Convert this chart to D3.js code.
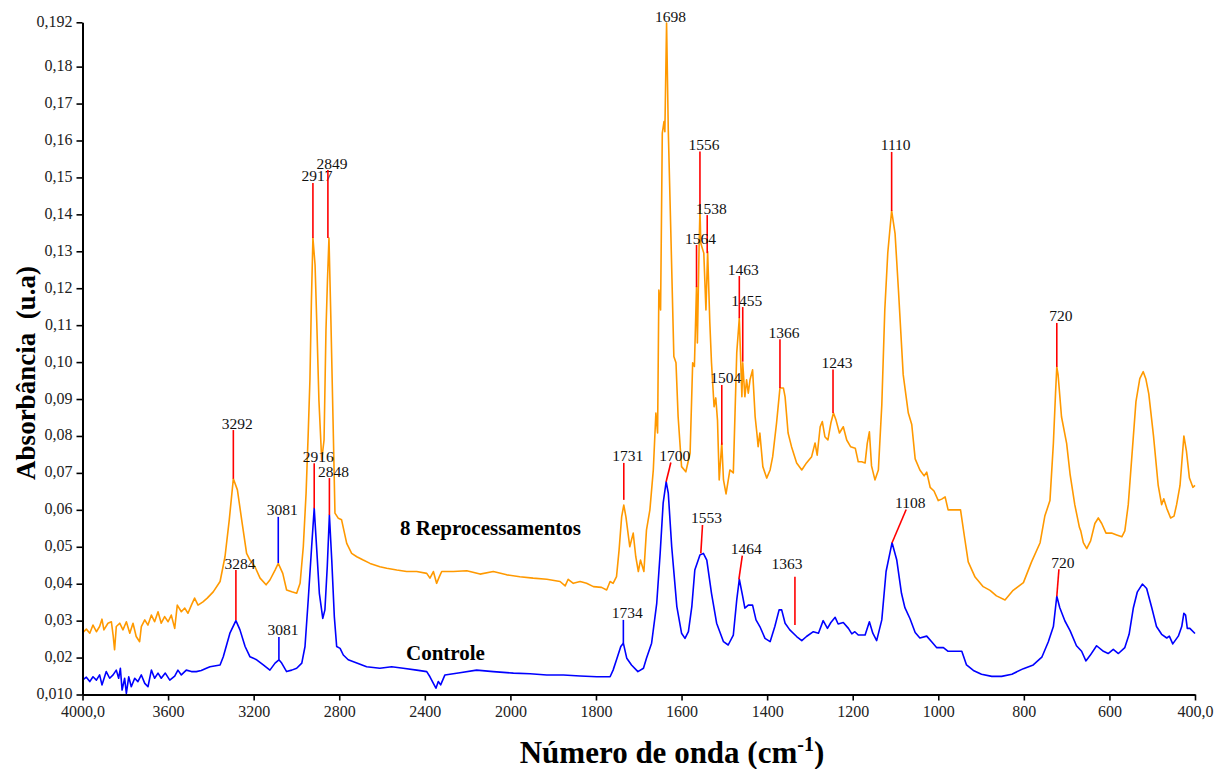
<!DOCTYPE html>
<html>
<head>
<meta charset="utf-8">
<script src="https://cdn.jsdelivr.net/npm/d3@7"></script>
<style>
  body { margin: 0; background: #fff; }
  svg text { font-family: "Liberation Serif", "Times New Roman", serif; }
</style>
</head>
<body>
<svg id="chart" width="1225" height="769"></svg>
<script>
// FTIR spectra, [wavenumber (cm-1), absorbance]
var reprocessados = [
  [4000,0.0267],[3982,0.0277],[3966,0.0266],[3951,0.0288],[3935,0.0270],[3920,0.0284],[3909,0.0304],[3900,0.0275],
  [3881,0.0293],[3865,0.0297],[3857,0.0261],[3850,0.0221],[3842,0.0284],[3826,0.0293],[3811,0.0275],[3795,0.0297],
  [3779,0.0266],[3764,0.0293],[3749,0.0257],[3733,0.0243],[3725,0.0284],[3709,0.0302],[3694,0.0288],[3678,0.0315],
  [3663,0.0297],[3647,0.0324],[3632,0.0293],[3616,0.0311],[3600,0.0297],[3585,0.0315],[3569,0.0279],[3557,0.0342],
  [3538,0.0324],[3522,0.0334],[3507,0.0320],[3491,0.0342],[3476,0.0361],[3460,0.0342],[3437,0.0351],[3417,0.0361],
  [3389,0.0378],[3357,0.0406],[3334,0.0473],[3314,0.0573],[3295,0.0684],[3276,0.0654],[3256,0.0573],[3233,0.0482],
  [3217,0.0464],[3194,0.0446],[3170,0.0415],[3142,0.0397],[3124,0.0410],[3100,0.0437],[3085,0.0455],[3064,0.0428],
  [3046,0.0383],[3022,0.0378],[2999,0.0374],[2983,0.0401],[2968,0.0500],[2955,0.0645],[2945,0.0807],[2937,0.0952],
  [2930,0.1168],[2923,0.1336],[2913,0.1263],[2904,0.1087],[2895,0.0897],[2882,0.0735],[2871,0.0789],[2862,0.1087],
  [2855,0.1222],[2848,0.1336],[2839,0.1114],[2829,0.0843],[2820,0.0591],[2804,0.0577],[2789,0.0573],[2765,0.0509],
  [2742,0.0482],[2718,0.0473],[2688,0.0464],[2656,0.0455],[2610,0.0446],[2578,0.0442],[2531,0.0437],[2485,0.0433],
  [2438,0.0433],[2391,0.0428],[2376,0.0415],[2360,0.0433],[2345,0.0401],[2332,0.0419],[2321,0.0433],[2267,0.0433],
  [2204,0.0435],[2142,0.0426],[2080,0.0433],[2017,0.0424],[1978,0.0419],[1947,0.0415],[1915,0.0412],[1884,0.0406],
  [1872,0.0394],[1865,0.0412],[1853,0.0401],[1837,0.0406],[1822,0.0401],[1806,0.0392],[1787,0.0390],[1775,0.0383],
  [1767,0.0406],[1760,0.0401],[1752,0.0419],[1746,0.0491],[1740,0.0581],[1735,0.0613],[1730,0.0581],[1721,0.0500],
  [1713,0.0537],[1707,0.0473],[1701,0.0433],[1696,0.0464],[1688,0.0433],[1682,0.0545],[1674,0.0600],[1666,0.0708],
  [1660,0.0862],[1656,0.0808],[1653,0.1195],[1649,0.1141],[1645,0.1620],[1641,0.1651],[1639,0.1624],[1635,0.1918],
  [1631,0.1628],[1625,0.1349],[1618,0.1015],[1613,0.0998],[1608,0.0852],[1600,0.0717],[1590,0.0703],[1580,0.0754],
  [1574,0.0998],[1570,0.0988],[1565,0.1204],[1563,0.1052],[1559,0.1312],[1557,0.1412],[1555,0.1322],[1548,0.1295],
  [1543,0.1141],[1539,0.1299],[1534,0.1109],[1530,0.0998],[1524,0.0879],[1520,0.0903],[1516,0.0843],[1512,0.0681],
  [1506,0.0781],[1502,0.0681],[1496,0.0643],[1487,0.0708],[1479,0.0700],[1471,0.1025],[1465,0.1119],[1459,0.0906],
  [1457,0.0998],[1452,0.0906],[1448,0.0952],[1444,0.0916],[1440,0.0952],[1434,0.0979],[1428,0.0852],[1424,0.0808],
  [1421,0.0771],[1417,0.0808],[1410,0.0717],[1405,0.0700],[1401,0.0686],[1393,0.0708],[1387,0.0744],[1378,0.0835],
  [1370,0.0930],[1362,0.0930],[1358,0.0906],[1351,0.0808],[1343,0.0771],[1331,0.0727],[1319,0.0708],[1308,0.0727],
  [1296,0.0744],[1288,0.0781],[1283,0.0748],[1276,0.0825],[1271,0.0839],[1265,0.0798],[1258,0.0789],[1251,0.0835],
  [1245,0.0862],[1239,0.0843],[1231,0.0808],[1222,0.0825],[1214,0.0789],[1205,0.0771],[1194,0.0767],[1187,0.0730],
  [1179,0.0730],[1171,0.0727],[1166,0.0780],[1161,0.0811],[1156,0.0719],[1148,0.0681],[1140,0.0708],[1132,0.0884],
  [1125,0.1141],[1118,0.1296],[1109,0.1410],[1101,0.1348],[1093,0.1193],[1082,0.0966],[1070,0.0862],[1062,0.0831],
  [1054,0.0738],[1043,0.0708],[1033,0.0692],[1027,0.0702],[1019,0.0661],[1010,0.0651],[1000,0.0625],[992,0.0629],
  [984,0.0635],[977,0.0600],[961,0.0600],[948,0.0600],[938,0.0521],[930,0.0459],[914,0.0418],[895,0.0392],
  [879,0.0382],[864,0.0367],[844,0.0356],[825,0.0382],[801,0.0403],[782,0.0459],[762,0.0511],[751,0.0583],
  [739,0.0625],[731,0.0780],[726,0.0914],[723,0.0987],[720,0.0966],[712,0.0852],[700,0.0780],[692,0.0697],
  [681,0.0614],[670,0.0552],[667,0.0543],[661,0.0511],[653,0.0495],[644,0.0516],[634,0.0563],[626,0.0578],
  [618,0.0563],[608,0.0537],[595,0.0537],[583,0.0532],[571,0.0527],[564,0.0543],[556,0.0614],[548,0.0738],
  [538,0.0893],[529,0.0955],[521,0.0974],[515,0.0955],[508,0.0914],[497,0.0800],[486,0.0666],[478,0.0614],
  [473,0.0630],[466,0.0604],[457,0.0578],[449,0.0583],[443,0.0614],[435,0.0666],[426,0.0800],[420,0.0759],
  [413,0.0686],[405,0.0661],[400,0.0666]
];

var controle = [
  [4000,0.0139],[3982,0.0147],[3966,0.0135],[3951,0.0148],[3935,0.0139],[3920,0.0153],[3909,0.0126],[3889,0.0162],
  [3873,0.0144],[3857,0.0153],[3842,0.0166],[3831,0.0144],[3823,0.0171],[3815,0.0112],[3803,0.0144],[3795,0.0103],
  [3784,0.0148],[3772,0.0121],[3756,0.0144],[3741,0.0135],[3725,0.0153],[3709,0.0130],[3694,0.0121],[3678,0.0166],
  [3663,0.0144],[3647,0.0158],[3632,0.0144],[3613,0.0158],[3592,0.0139],[3569,0.0150],[3554,0.0166],[3538,0.0153],
  [3515,0.0166],[3491,0.0162],[3468,0.0162],[3445,0.0165],[3421,0.0171],[3404,0.0175],[3357,0.0180],[3342,0.0202],
  [3311,0.0266],[3283,0.0300],[3264,0.0275],[3240,0.0230],[3217,0.0202],[3186,0.0194],[3155,0.0180],[3124,0.0166],
  [3100,0.0185],[3082,0.0194],[3069,0.0185],[3046,0.0162],[3022,0.0166],[2999,0.0171],[2975,0.0185],[2960,0.0230],
  [2945,0.0356],[2929,0.0500],[2917,0.0604],[2905,0.0491],[2893,0.0374],[2877,0.0306],[2867,0.0329],[2856,0.0446],
  [2846,0.0586],[2835,0.0464],[2823,0.0311],[2812,0.0230],[2796,0.0225],[2781,0.0207],[2758,0.0194],[2718,0.0185],
  [2672,0.0175],[2610,0.0171],[2555,0.0175],[2501,0.0171],[2438,0.0166],[2391,0.0162],[2376,0.0148],[2360,0.0130],
  [2348,0.0117],[2337,0.0135],[2326,0.0126],[2306,0.0153],[2236,0.0159],[2158,0.0166],[2080,0.0162],[1993,0.0158],
  [1954,0.0156],[1915,0.0153],[1876,0.0153],[1837,0.0150],[1798,0.0148],[1767,0.0148],[1760,0.0166],[1752,0.0194],
  [1742,0.0230],[1736,0.0239],[1728,0.0198],[1717,0.0180],[1702,0.0162],[1689,0.0171],[1682,0.0198],[1670,0.0239],
  [1658,0.0347],[1650,0.0482],[1643,0.0618],[1636,0.0676],[1631,0.0645],[1623,0.0500],[1611,0.0338],[1600,0.0266],
  [1592,0.0252],[1584,0.0270],[1576,0.0338],[1569,0.0437],[1557,0.0478],[1549,0.0482],[1541,0.0464],[1530,0.0374],
  [1518,0.0293],[1502,0.0243],[1491,0.0234],[1479,0.0261],[1471,0.0356],[1465,0.0412],[1457,0.0365],[1452,0.0334],
  [1444,0.0342],[1434,0.0342],[1426,0.0302],[1417,0.0284],[1405,0.0252],[1393,0.0243],[1382,0.0284],[1372,0.0329],
  [1366,0.0329],[1358,0.0293],[1347,0.0275],[1331,0.0257],[1319,0.0246],[1308,0.0257],[1292,0.0270],[1280,0.0266],
  [1269,0.0300],[1259,0.0279],[1251,0.0295],[1241,0.0309],[1234,0.0291],[1222,0.0295],[1210,0.0279],[1202,0.0264],
  [1195,0.0270],[1187,0.0261],[1171,0.0261],[1161,0.0297],[1153,0.0266],[1144,0.0246],[1132,0.0302],[1122,0.0433],
  [1108,0.0511],[1097,0.0464],[1086,0.0374],[1078,0.0335],[1066,0.0305],[1054,0.0268],[1043,0.0253],[1027,0.0258],
  [1015,0.0242],[1004,0.0227],[988,0.0227],[977,0.0217],[957,0.0217],[945,0.0217],[934,0.0180],[918,0.0165],
  [899,0.0155],[875,0.0149],[852,0.0149],[828,0.0155],[801,0.0170],[778,0.0180],[758,0.0201],[743,0.0242],
  [731,0.0284],[723,0.0366],[716,0.0335],[704,0.0299],[692,0.0273],[677,0.0232],[665,0.0217],[655,0.0191],
  [645,0.0206],[630,0.0232],[614,0.0217],[603,0.0211],[591,0.0222],[579,0.0211],[564,0.0227],[554,0.0263],
  [544,0.0335],[535,0.0377],[523,0.0399],[513,0.0387],[501,0.0335],[490,0.0284],[478,0.0263],[466,0.0253],
  [460,0.0258],[452,0.0237],[439,0.0258],[431,0.0284],[426,0.0320],[422,0.0315],[418,0.0279],[412,0.0279],
  [400,0.0265]
];

// peak marks: label, top of the mark [cm-1, abs], foot of the mark [cm-1, abs]
var picosReprocessados = [
  ['3292', 3295, 0.0816, 3295, 0.0684],
  ['3081', 3085, 0.0581, 3085, 0.0456],
  ['2917', 2923, 0.1485, 2923, 0.1336],
  ['2849', 2853, 0.1520, 2853, 0.1336],
  ['1698', 1635, 0.1918, 1635, 0.1918],
  ['1556', 1557, 0.1570, 1557, 0.1412],
  ['1538', 1540, 0.1398, 1540, 0.1295],
  ['1564', 1565, 0.1317, 1565, 0.1203],
  ['1463', 1465, 0.1233, 1465, 0.1119],
  ['1455', 1457, 0.1149, 1457, 0.1001],
  ['1504', 1506, 0.0938, 1506, 0.0776],
  ['1366', 1370, 0.1062, 1370, 0.0930],
  ['1243', 1246, 0.0980, 1246, 0.0862],
  ['1110', 1109, 0.1569, 1109, 0.1409],
  ['720', 723, 0.1106, 723, 0.0987],
  ['1731', 1735, 0.0727, 1735, 0.0627]
];

var picosControle = [
  ['3284', 3283, 0.0437, 3283, 0.0302],
  ['3081', 3082, 0.0256, 3082, 0.0194],
  ['2916', 2917, 0.0726, 2917, 0.0604],
  ['2848', 2846, 0.0686, 2846, 0.0586],
  ['1700', 1625, 0.0728, 1636, 0.0676],
  ['1553', 1551, 0.0559, 1555, 0.0482],
  ['1464', 1458, 0.0476, 1466, 0.0412],
  ['1363', 1335, 0.0419, 1335, 0.0288],
  ['1108', 1075, 0.0601, 1108, 0.0511],
  ['720', 718, 0.0439, 723, 0.0366],
  ['1734', 1736, 0.0302, 1736, 0.0239]
];

// these marks are drawn in blue instead of red
var marcasAzuis = ['3081', '1734'];

var xTicks = [4000, 3600, 3200, 2800, 2400, 2000, 1800, 1600, 1400, 1200, 1000, 800, 600, 400];
var yTicks = [0.010, 0.02, 0.03, 0.04, 0.05, 0.06, 0.07, 0.08, 0.09, 0.10, 0.11, 0.12,
              0.13, 0.14, 0.15, 0.16, 0.17, 0.18, 0.192];

var series = [
  { nome: '8 Reprocessamentos', dados: reprocessados, picos: picosReprocessados },
  { nome: 'Controle', dados: controle, picos: picosControle }
];

var cores = { '8 Reprocessamentos': '#ff9900', 'Controle': '#0000ff' };

var svg = d3.select('#chart');
svg.append('rect').attr('width', 1225).attr('height', 769).attr('fill', '#fff');

// the wavenumber axis is compressed 2x above 2000 cm-1
var x = d3.scaleLinear().domain([4000, 2000, 400]).range([82.5, 510.4, 1195]),
    y = d3.scaleLinear().domain([0.010, 0.192]).range([694.5, 22.3]);

var line = d3.line()
  .x(function(d) { return x(d[0]); })
  .y(function(d) { return y(d[1]); });

series.forEach(function(s) {
  svg.append('path')
    .datum(s.dados)
    .attr('fill', 'none')
    .attr('stroke', cores[s.nome])
    .attr('stroke-width', 1.6)
    .attr('stroke-linejoin', 'round')
    .attr('d', line);
});

// peak marks and their numbers
series.forEach(function(s) {
  var g = svg.append('g');
  s.picos.forEach(function(p) {
    var azul = marcasAzuis.indexOf(p[0]) >= 0;
    if (p[2] !== p[4] || p[1] !== p[3]) {
      g.append('line')
        .attr('x1', x(p[1])).attr('y1', y(p[2]))
        .attr('x2', x(p[3])).attr('y2', y(p[4]))
        .attr('stroke', azul ? '#0000ff' : '#ff0000')
        .attr('stroke-width', 1.6);
    }
    var dx = 4, dy = -1.5;
    if (p[0] === '1363') { dx = -8; dy = -8; }   // label sits off to the left of its mark
    g.append('text')
      .attr('x', x(p[1]) + dx)
      .attr('y', y(p[2]) + dy)
      .attr('text-anchor', 'middle')
      .attr('font-size', '15.5px')
      .attr('fill', '#111')
      .text(p[0]);
  });
});

// axes
var xAxis = d3.axisBottom(x)
  .tickValues(xTicks)
  .tickSize(6)
  .tickSizeOuter(0)
  .tickPadding(5)
  .tickFormat(function(d) { return (d === 4000 || d === 400) ? d + ',0' : d; });

var yAxis = d3.axisLeft(y)
  .tickValues(yTicks)
  .tickSize(6)
  .tickSizeOuter(0)
  .tickPadding(4)
  .tickFormat(function(d) {
    var s = (d === 0.010 || d === 0.192) ? d.toFixed(3) : d.toFixed(2);
    return s.replace('.', ',');
  });

var gx = svg.append('g').attr('transform', 'translate(0,694.5)').call(xAxis);
var gy = svg.append('g').attr('transform', 'translate(82.5,0)').call(yAxis);

[gx, gy].forEach(function(g) {
  g.attr('font-family', '"Liberation Serif", "Times New Roman", serif').attr('font-size', 16);
  g.select('.domain').attr('stroke', '#000').attr('stroke-width', 2);
  g.selectAll('.tick line').attr('stroke', '#000').attr('stroke-width', 1.6);
  g.selectAll('.tick text').attr('fill', '#222');
});
gy.selectAll('.tick text').attr('dy', '0.25em');

// curve names
svg.append('text')
  .attr('x', 400).attr('y', 535)
  .attr('font-size', '21px').attr('font-weight', 'bold')
  .text(series[0].nome);

svg.append('text')
  .attr('x', 406).attr('y', 660)
  .attr('font-size', '21px').attr('font-weight', 'bold')
  .text(series[1].nome);

// axis titles
svg.append('text')
  .attr('transform', 'translate(35,373) rotate(-90)')
  .attr('text-anchor', 'middle')
  .attr('font-size', '27px').attr('font-weight', 'bold')
  .text('Absorbância\u00a0\u00a0(u.a)');

var xt = svg.append('text')
  .attr('x', 672).attr('y', 763)
  .attr('text-anchor', 'middle')
  .attr('font-size', '31px').attr('font-weight', 'bold');
xt.append('tspan').text('Número de onda (cm');
xt.append('tspan').attr('font-size', '20px').attr('dy', -12).text('-1');
xt.append('tspan').attr('dy', 12).text(')');
</script>
</body>
</html>
